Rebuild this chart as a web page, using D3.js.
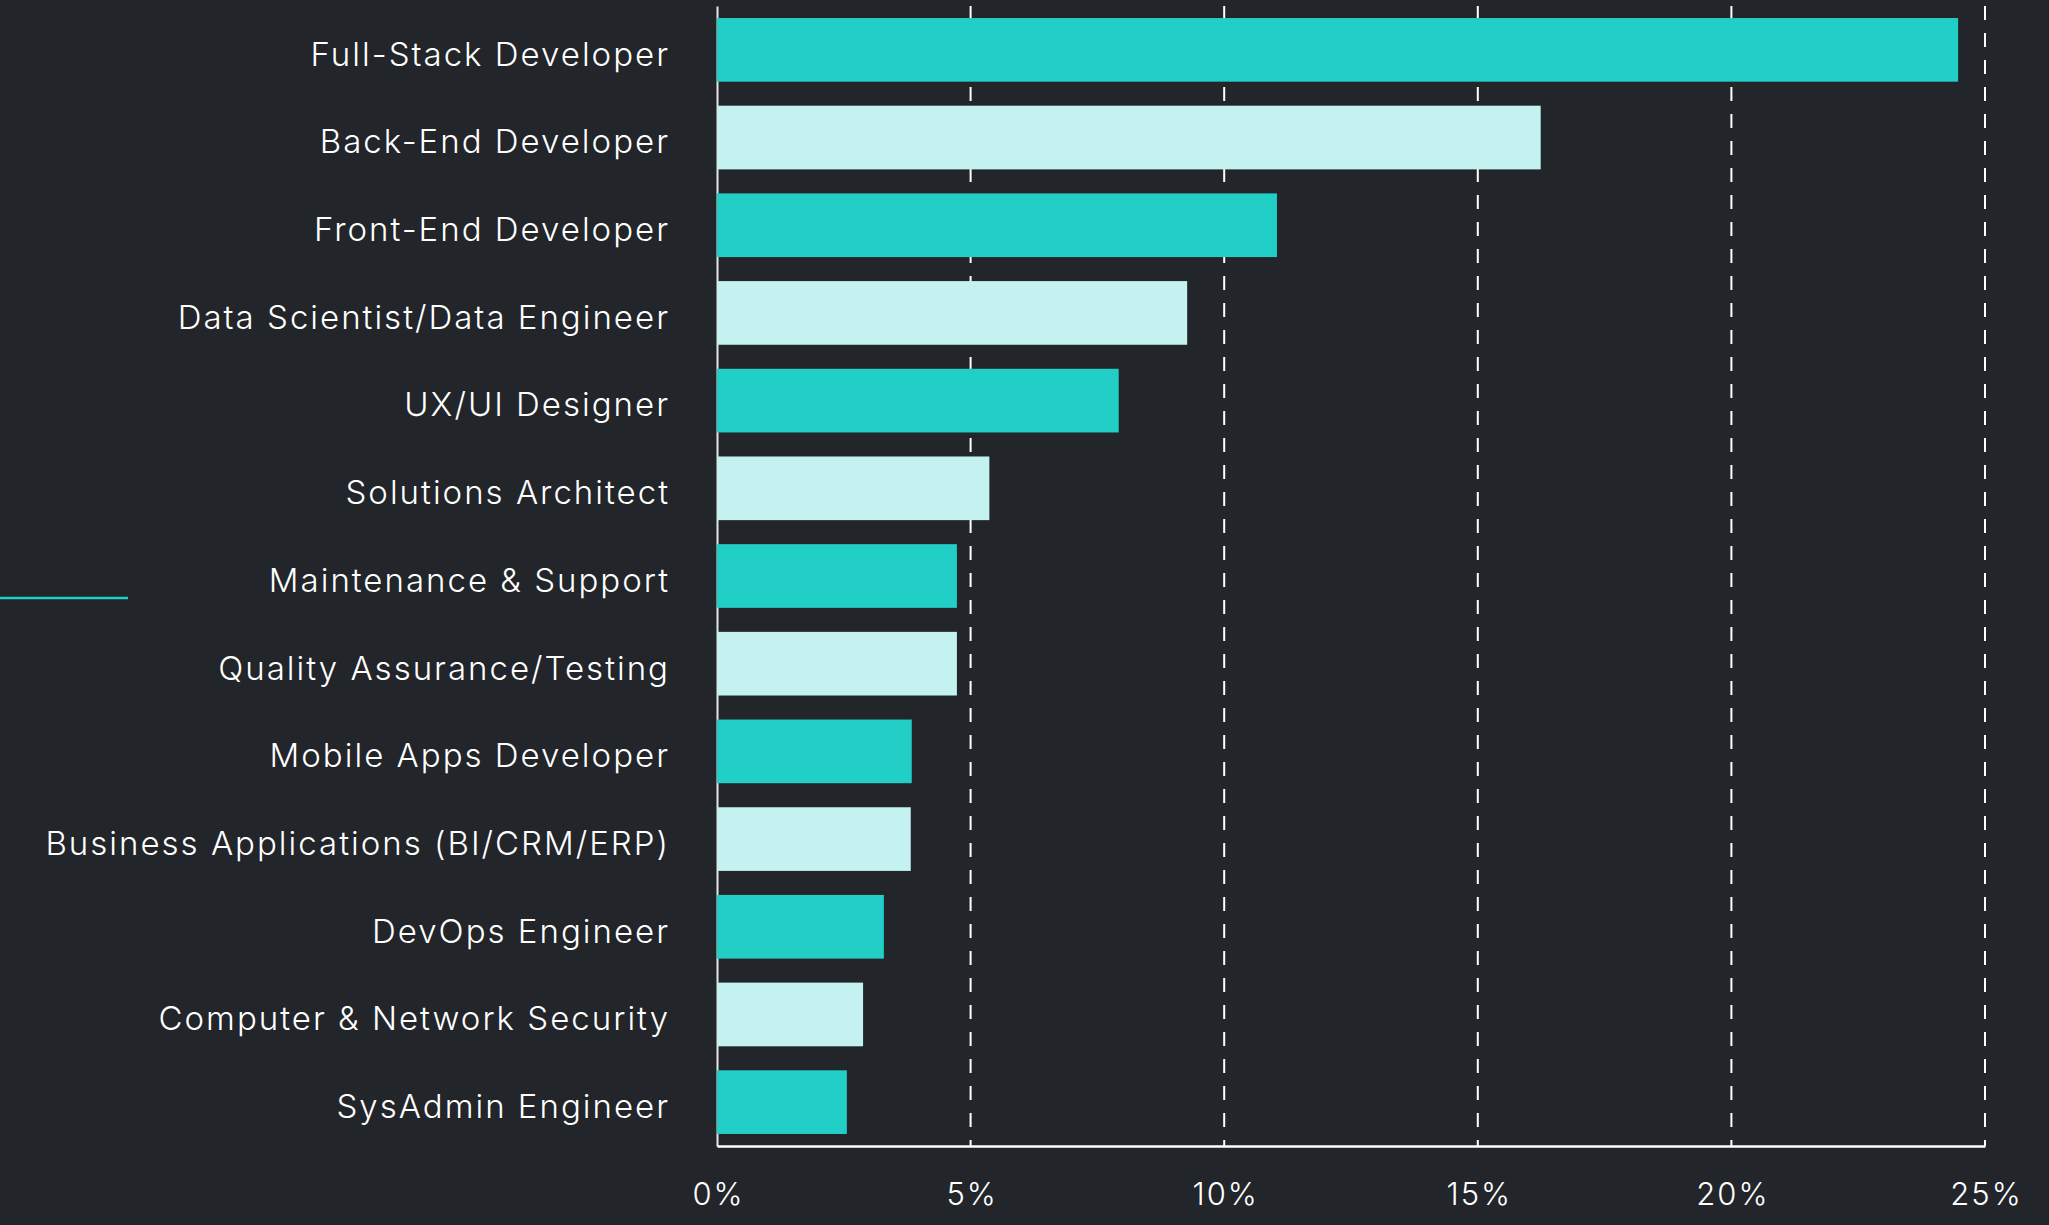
<!DOCTYPE html>
<html>
<head>
<meta charset="utf-8">
<script src="https://cdn.jsdelivr.net/npm/d3@7"></script>
<style>
  html, body { margin: 0; padding: 0; background: #22252a; }
  svg { display: block; }
  .tick text { font-family: "Inter", "Noto Sans", sans-serif; font-weight: 300; fill: #ffffff; }
</style>
</head>
<body>
<div id="chart"></div>
<script>
// roles and share of respondents (%)
var roles = [
  "Full-Stack Developer",
  "Back-End Developer",
  "Front-End Developer",
  "Data Scientist/Data Engineer",
  "UX/UI Designer",
  "Solutions Architect",
  "Maintenance & Support",
  "Quality Assurance/Testing",
  "Mobile Apps Developer",
  "Business Applications (BI/CRM/ERP)",
  "DevOps Engineer",
  "Computer & Network Security",
  "SysAdmin Engineer"
];
var shares = [24.47, 16.24, 11.04, 9.27, 7.92, 5.37, 4.73, 4.73, 3.84, 3.82, 3.29, 2.88, 2.56];
var xTicks = [0, 5, 10, 15, 20, 25];

var barColors = ["#22cfc6", "#c4f2f1"];

var svgWidth = 2049;
var svgHeight = 1225;
var margin = { top: 6, right: 64, bottom: 79, left: 717 };
var chartWidth = svgWidth - margin.left - margin.right;
var chartHeight = svgHeight - margin.top - margin.bottom;

var data = roles.map(function(r, i) { return { role: r, share: shares[i] }; });

var svg = d3.select("#chart")
  .append("svg")
  .attr("width", svgWidth)
  .attr("height", svgHeight)
  .style("background", "#22252a");

// small accent line on the left
svg.append("line")
  .attr("x1", 0).attr("x2", 128)
  .attr("y1", 598).attr("y2", 598)
  .attr("stroke", "#22cfc6")
  .attr("stroke-width", 2.5);

var chartGroup = svg.append("g")
  .attr("transform", `translate(${margin.left}, ${margin.top})`);

var xScale = d3.scaleLinear().domain([0, 25]).range([0, chartWidth]);
var yScale = d3.scaleBand()
  .domain(roles)
  .range([0, chartHeight])
  .paddingInner(0.274)
  .paddingOuter(0.137);

// dashed grid lines
chartGroup.selectAll("line.grid")
  .data(xTicks.filter(function(t) { return t > 0; }))
  .enter()
  .append("line")
  .attr("class", "grid")
  .attr("x1", d => xScale(d))
  .attr("x2", d => xScale(d))
  .attr("y1", 0)
  .attr("y2", chartHeight)
  .attr("stroke", "#ffffff")
  .attr("stroke-width", 2)
  .attr("stroke-dasharray", "14,13");

// left axis (labels + solid line)
var leftAxis = d3.axisLeft(yScale).tickSize(0).tickPadding(47).tickSizeOuter(0);
var yAxisG = chartGroup.append("g").call(leftAxis);
yAxisG.select(".domain").attr("stroke", "#e6e6e6").attr("stroke-width", 2);
yAxisG.selectAll(".tick text")
  .attr("font-size", 33)
  .attr("letter-spacing", "2px")
  .attr("dy", "0.48em");

// bars
chartGroup.selectAll("rect.bar")
  .data(data)
  .enter()
  .append("rect")
  .attr("class", "bar")
  .attr("x", 0)
  .attr("y", d => yScale(d.role))
  .attr("width", d => xScale(d.share))
  .attr("height", yScale.bandwidth())
  .attr("fill", (d, i) => barColors[i % 2]);

// bottom axis
var bottomAxis = d3.axisBottom(xScale)
  .tickValues(xTicks)
  .tickFormat(d => d + "%")
  .tickSize(0)
  .tickSizeOuter(0)
  .tickPadding(37);
var xAxisG = chartGroup.append("g")
  .attr("transform", `translate(0, ${chartHeight})`)
  .call(bottomAxis);
xAxisG.select(".domain").attr("stroke", "#ffffff").attr("stroke-width", 2.5);
xAxisG.selectAll(".tick text")
  .attr("font-size", 31)
  .attr("letter-spacing", "2px")
  .attr("dx", "1px");
</script>
</body>
</html>
